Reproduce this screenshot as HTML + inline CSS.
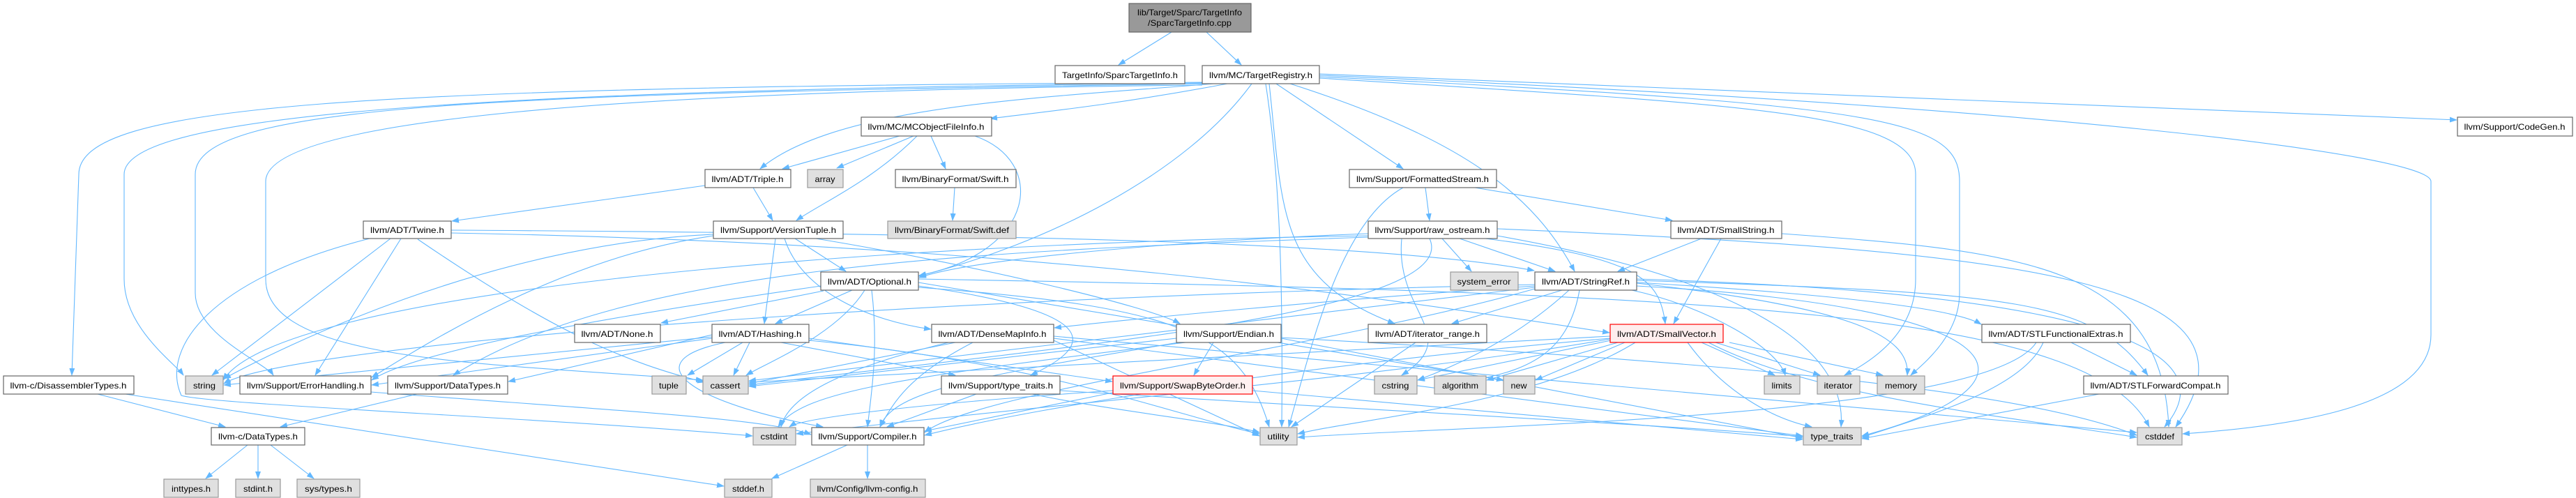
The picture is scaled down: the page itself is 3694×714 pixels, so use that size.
<!DOCTYPE html>
<html><head><meta charset="utf-8"><style>
html,body{margin:0;padding:0;background:#fff}
svg{display:block}
text{font-family:"Liberation Sans",sans-serif;font-size:12px;fill:#000}
.e{fill:none;stroke:#63b8ff;stroke-width:1.1}
.n{fill:#fff;stroke:#666;stroke-width:1.2}
.g{fill:#e0e0e0;stroke:#999;stroke-width:1.2}
.r{fill:#fff0f0;stroke:#f00;stroke-width:1.2}
.root{fill:#999;stroke:#666;stroke-width:1.2}
</style></head><body>
<svg width="3694" height="714" viewBox="0 0 3694 714" xmlns="http://www.w3.org/2000/svg">
<defs><marker id="a" markerWidth="11" markerHeight="8" refX="10" refY="4" orient="auto" markerUnits="userSpaceOnUse"><path d="M0,0 L11,4 L0,8 z" fill="#63b8ff"/></marker></defs>
<g class="e" marker-end="url(#a)">
<path d="M1680 46 L1604 93"/>
<path d="M1730 46 L1780 93"/>
<path d="M1724 118 C500 125,113 150,113 250 L103 538"/>
<path d="M1724 119 C600 130,178 170,178 250 L178 400 C178 470,250 520,263 538"/>
<path d="M1724 120 C700 135,280 150,280 250 L280 420 C280 480,380 520,392 538"/>
<path d="M1724 122 C900 130,381 170,381 260 L381 400 C381 520,700 520,1008 545"/>
<path d="M1760 120 C1600 150,1500 160,1420 170"/>
<path d="M1740 120 C1500 140,1200 150,1090 242"/>
<path d="M1795 120 C1700 250,1500 350,1317 396"/>
<path d="M1830 120 L2012 242"/>
<path d="M1850 120 C2100 200,2200 280,2258 389"/>
<path d="M1820 120 C1840 300,1830 400,2000 464"/>
<path d="M1815 120 C1835 250,1840 400,1838 612"/>
<path d="M1892 112 C2500 150,2747 160,2747 250 L2747 400 C2747 480,2680 520,2645 538"/>
<path d="M1892 110 C2700 150,2810 170,2810 260 L2810 420 C2810 480,2760 520,2740 538"/>
<path d="M1892 108 C2900 150,3486 220,3486 260 L3486 480 C3486 580,3300 610,3130 622"/>
<path d="M1892 106 L3523 172"/>
<path d="M1290 195 L1122 242"/>
<path d="M1310 195 L1200 241"/>
<path d="M1335 195 L1356 242"/>
<path d="M1315 195 C1250 260,1180 290,1142 316"/>
<path d="M1398 195 C1500 230,1490 360,1318 395"/>
<path d="M1080 269 L1108 316"/>
<path d="M1011 266 L648 317"/>
<path d="M1369 269 L1366 316"/>
<path d="M2044 269 L2050 316"/>
<path d="M2115 269 L2398 316"/>
<path d="M2012 269 C1920 320,1880 500,1848 612"/>
<path d="M2068 342 L2110 389"/>
<path d="M2093 342 L2230 389"/>
<path d="M2130 342 C2350 370,2380 400,2388 464"/>
<path d="M1962 335 C1700 345,1400 370,1318 398"/>
<path d="M1962 338 C1200 350,400 420,320 545"/>
<path d="M1962 340 C1400 360,900 380,650 538"/>
<path d="M2050 342 C2100 450,1500 500,1074 552"/>
<path d="M2147 328 C2900 360,3270 400,3120 612"/>
<path d="M2147 338 C2500 400,2650 500,2640 612"/>
<path d="M2010 342 C2000 450,2100 480,2010 538"/>
<path d="M2440 342 L2320 389"/>
<path d="M2468 342 L2400 464"/>
<path d="M2555 335 C2900 360,3100 380,3110 612"/>
<path d="M560 342 L304 538"/>
<path d="M575 342 L452 538"/>
<path d="M530 342 C300 400,230 500,260 567 C300 580,800 600,1079 625"/>
<path d="M647 334 C1500 350,2000 430,2308 477"/>
<path d="M647 330 C1500 335,2000 350,2200 388"/>
<path d="M599 343 C800 480,900 520,1010 548"/>
<path d="M1181 417 L948 463"/>
<path d="M1222 416 L1112 464"/>
<path d="M1240 416 C1200 480,1100 520,1070 538"/>
<path d="M1317 410 C1600 450,1560 500,1478 538"/>
<path d="M1317 412 C1700 440,1780 480,1820 612"/>
<path d="M1317 405 L2156 545"/>
<path d="M1317 400 C2500 420,3000 450,3082 612"/>
<path d="M1177 410 C900 450,600 500,533 545"/>
<path d="M1250 416 C1260 500,1250 560,1244 612"/>
<path d="M1112 342 L1096 464"/>
<path d="M1140 342 L1213 389"/>
<path d="M1125 342 C1150 420,1250 460,1335 472"/>
<path d="M1170 342 C1400 380,1650 440,1692 464"/>
<path d="M1023 338 C800 370,600 500,533 541"/>
<path d="M1023 336 C700 350,400 500,321 543"/>
<path d="M1065 491 L986 538"/>
<path d="M1075 491 L1052 538"/>
<path d="M1120 491 L1370 538"/>
<path d="M1160 485 L1595 547"/>
<path d="M1021 485 L533 552"/>
<path d="M1021 480 L729 547"/>
<path d="M1021 483 L321 552"/>
<path d="M1040 491 C900 520,1000 580,1180 612"/>
<path d="M1160 488 C1500 520,1700 600,1806 622"/>
<path d="M1370 491 L1074 550"/>
<path d="M1395 491 C1300 540,1280 580,1262 612"/>
<path d="M1360 491 C1200 530,1130 570,1120 612"/>
<path d="M1511 485 L2585 625"/>
<path d="M1511 488 L1806 625"/>
<path d="M1511 482 L3064 620"/>
<path d="M2201 410 C1900 430,1600 460,1512 470"/>
<path d="M1740 491 L1712 538"/>
<path d="M1687 485 L1074 554"/>
<path d="M1690 491 C1400 540,1280 560,1262 612"/>
<path d="M1837 485 L2585 628"/>
<path d="M1837 484 C2500 520,2900 560,3064 624"/>
<path d="M1700 491 C1300 540,1150 560,1116 612"/>
<path d="M1796 560 L2585 630"/>
<path d="M1596 560 C1300 580,1150 600,1132 612"/>
<path d="M1600 562 L1326 618"/>
<path d="M1400 565 L1272 612"/>
<path d="M1520 560 C2000 590,2400 610,2585 626"/>
<path d="M1480 565 C1600 590,1750 605,1806 620"/>
<path d="M2240 416 L2082 464"/>
<path d="M2250 416 C2180 480,2100 520,2033 545"/>
<path d="M2265 416 C2250 500,2200 530,2112 545"/>
<path d="M2340 416 C2450 440,2550 500,2560 538"/>
<path d="M2347 405 C2600 420,2800 440,2841 465"/>
<path d="M2347 400 C3000 420,3200 500,3104 612"/>
<path d="M2347 410 C2900 440,2950 550,2670 625"/>
<path d="M2201 412 L1074 546"/>
<path d="M2201 408 C1200 430,400 500,321 550"/>
<path d="M2201 414 C1900 500,1400 560,1326 620"/>
<path d="M2347 402 C2900 420,3000 430,3080 538"/>
<path d="M2347 406 C2650 440,2740 480,2735 538"/>
<path d="M2440 491 L2545 538"/>
<path d="M2460 491 L2610 538"/>
<path d="M2480 491 L2700 538"/>
<path d="M2330 491 L2202 545"/>
<path d="M2320 491 L2132 545"/>
<path d="M2310 488 L2033 545"/>
<path d="M2420 491 C2470 560,2540 600,2598 612"/>
<path d="M2345 491 C2200 580,1950 600,1861 622"/>
<path d="M2309 485 C1900 520,1500 580,1326 624"/>
<path d="M2450 491 C2600 570,2900 600,3064 627"/>
<path d="M2309 482 L1074 548"/>
<path d="M2309 486 C2000 540,1500 580,1142 622"/>
<path d="M2030 491 L1852 612"/>
<path d="M2970 491 L3064 538"/>
<path d="M2930 491 C2900 560,2750 600,2670 627"/>
<path d="M2920 491 C2850 600,2100 610,1861 627"/>
<path d="M3010 565 L2670 629"/>
<path d="M140 565 L323 612"/>
<path d="M180 565 L1038 697"/>
<path d="M598 565 L402 612"/>
<path d="M532 562 C900 590,1100 600,1163 623"/>
<path d="M355 638 L295 686"/>
<path d="M370 638 L370 686"/>
<path d="M388 638 L450 686"/>
<path d="M1215 638 L1107 686"/>
<path d="M1244 638 L1244 686"/>
</g>
<g text-anchor="middle">
<rect class="root" x="1619" y="5" width="175" height="41"/><text x="1706" y="22" textLength="150" lengthAdjust="spacingAndGlyphs">lib/Target/Sparc/TargetInfo</text><text x="1706" y="37" textLength="120" lengthAdjust="spacingAndGlyphs">/SparcTargetInfo.cpp</text>
<rect class="n" x="1513" y="94" width="186" height="26"/><text x="1606" y="112" textLength="166" lengthAdjust="spacingAndGlyphs">TargetInfo/SparcTargetInfo.h</text>
<rect class="n" x="1724" y="94" width="168" height="26"/><text x="1808" y="112" textLength="148" lengthAdjust="spacingAndGlyphs">llvm/MC/TargetRegistry.h</text>
<rect class="n" x="1235" y="168" width="187" height="27"/><text x="1328" y="186" textLength="167" lengthAdjust="spacingAndGlyphs">llvm/MC/MCObjectFileInfo.h</text>
<rect class="n" x="3524" y="168" width="165" height="27"/><text x="3606" y="186" textLength="145" lengthAdjust="spacingAndGlyphs">llvm/Support/CodeGen.h</text>
<rect class="n" x="1011" y="243" width="123" height="26"/><text x="1072" y="261" textLength="103" lengthAdjust="spacingAndGlyphs">llvm/ADT/Triple.h</text>
<rect class="g" x="1158" y="243" width="51" height="26"/><text x="1183" y="261" textLength="29" lengthAdjust="spacingAndGlyphs">array</text>
<rect class="n" x="1284" y="243" width="173" height="26"/><text x="1370" y="261" textLength="153" lengthAdjust="spacingAndGlyphs">llvm/BinaryFormat/Swift.h</text>
<rect class="n" x="1935" y="243" width="211" height="26"/><text x="2040" y="261" textLength="190" lengthAdjust="spacingAndGlyphs">llvm/Support/FormattedStream.h</text>
<rect class="n" x="521" y="317" width="126" height="25"/><text x="584" y="334" textLength="106" lengthAdjust="spacingAndGlyphs">llvm/ADT/Twine.h</text>
<rect class="n" x="1023" y="317" width="186" height="25"/><text x="1116" y="334" textLength="166" lengthAdjust="spacingAndGlyphs">llvm/Support/VersionTuple.h</text>
<rect class="g" x="1273" y="317" width="184" height="25"/><text x="1365" y="334" textLength="164" lengthAdjust="spacingAndGlyphs">llvm/BinaryFormat/Swift.def</text>
<rect class="n" x="1962" y="317" width="185" height="25"/><text x="2054" y="334" textLength="165" lengthAdjust="spacingAndGlyphs">llvm/Support/raw_ostream.h</text>
<rect class="n" x="2396" y="317" width="159" height="25"/><text x="2475" y="334" textLength="139" lengthAdjust="spacingAndGlyphs">llvm/ADT/SmallString.h</text>
<rect class="n" x="1177" y="390" width="140" height="26"/><text x="1247" y="408" textLength="120" lengthAdjust="spacingAndGlyphs">llvm/ADT/Optional.h</text>
<rect class="g" x="2080" y="390" width="97" height="26"/><text x="2128" y="408" textLength="77" lengthAdjust="spacingAndGlyphs">system_error</text>
<rect class="n" x="2201" y="390" width="146" height="26"/><text x="2274" y="408" textLength="126" lengthAdjust="spacingAndGlyphs">llvm/ADT/StringRef.h</text>
<rect class="n" x="824" y="465" width="123" height="26"/><text x="885" y="483" textLength="103" lengthAdjust="spacingAndGlyphs">llvm/ADT/None.h</text>
<rect class="n" x="1021" y="465" width="139" height="26"/><text x="1090" y="483" textLength="119" lengthAdjust="spacingAndGlyphs">llvm/ADT/Hashing.h</text>
<rect class="n" x="1336" y="465" width="175" height="26"/><text x="1423" y="483" textLength="155" lengthAdjust="spacingAndGlyphs">llvm/ADT/DenseMapInfo.h</text>
<rect class="n" x="1687" y="465" width="150" height="26"/><text x="1762" y="483" textLength="130" lengthAdjust="spacingAndGlyphs">llvm/Support/Endian.h</text>
<rect class="n" x="1962" y="465" width="170" height="26"/><text x="2047" y="483" textLength="150" lengthAdjust="spacingAndGlyphs">llvm/ADT/iterator_range.h</text>
<rect class="r" x="2309" y="465" width="162" height="26" style="fill:#fee"/><text x="2390" y="483" textLength="142" lengthAdjust="spacingAndGlyphs">llvm/ADT/SmallVector.h</text>
<rect class="n" x="2842" y="465" width="213" height="26"/><text x="2948" y="483" textLength="193" lengthAdjust="spacingAndGlyphs">llvm/ADT/STLFunctionalExtras.h</text>
<rect class="n" x="5" y="539" width="187" height="26"/><text x="98" y="557" textLength="167" lengthAdjust="spacingAndGlyphs">llvm-c/DisassemblerTypes.h</text>
<rect class="g" x="266" y="539" width="54" height="26"/><text x="293" y="557" textLength="32" lengthAdjust="spacingAndGlyphs">string</text>
<rect class="n" x="344" y="539" width="188" height="26"/><text x="438" y="557" textLength="168" lengthAdjust="spacingAndGlyphs">llvm/Support/ErrorHandling.h</text>
<rect class="n" x="556" y="539" width="172" height="26"/><text x="642" y="557" textLength="152" lengthAdjust="spacingAndGlyphs">llvm/Support/DataTypes.h</text>
<rect class="g" x="935" y="539" width="49" height="26"/><text x="959" y="557" textLength="28" lengthAdjust="spacingAndGlyphs">tuple</text>
<rect class="g" x="1008" y="539" width="65" height="26"/><text x="1040" y="557" textLength="43" lengthAdjust="spacingAndGlyphs">cassert</text>
<rect class="n" x="1350" y="539" width="170" height="26"/><text x="1435" y="557" textLength="150" lengthAdjust="spacingAndGlyphs">llvm/Support/type_traits.h</text>
<rect class="r" x="1596" y="539" width="200" height="26"/><text x="1696" y="557" textLength="180" lengthAdjust="spacingAndGlyphs">llvm/Support/SwapByteOrder.h</text>
<rect class="g" x="1971" y="539" width="61" height="26"/><text x="2001" y="557" textLength="39" lengthAdjust="spacingAndGlyphs">cstring</text>
<rect class="g" x="2057" y="539" width="74" height="26"/><text x="2094" y="557" textLength="52" lengthAdjust="spacingAndGlyphs">algorithm</text>
<rect class="g" x="2156" y="539" width="45" height="26"/><text x="2178" y="557" textLength="23" lengthAdjust="spacingAndGlyphs">new</text>
<rect class="g" x="2530" y="539" width="51" height="26"/><text x="2555" y="557" textLength="29" lengthAdjust="spacingAndGlyphs">limits</text>
<rect class="g" x="2606" y="539" width="61" height="26"/><text x="2636" y="557" textLength="41" lengthAdjust="spacingAndGlyphs">iterator</text>
<rect class="g" x="2692" y="539" width="68" height="26"/><text x="2726" y="557" textLength="46" lengthAdjust="spacingAndGlyphs">memory</text>
<rect class="n" x="2988" y="539" width="207" height="26"/><text x="3091" y="557" textLength="187" lengthAdjust="spacingAndGlyphs">llvm/ADT/STLForwardCompat.h</text>
<rect class="n" x="303" y="613" width="134" height="25"/><text x="370" y="630" textLength="114" lengthAdjust="spacingAndGlyphs">llvm-c/DataTypes.h</text>
<rect class="g" x="1080" y="613" width="61" height="25"/><text x="1110" y="630" textLength="39" lengthAdjust="spacingAndGlyphs">cstdint</text>
<rect class="n" x="1164" y="613" width="161" height="25"/><text x="1244" y="630" textLength="141" lengthAdjust="spacingAndGlyphs">llvm/Support/Compiler.h</text>
<rect class="g" x="1807" y="613" width="53" height="25"/><text x="1833" y="630" textLength="31" lengthAdjust="spacingAndGlyphs">utility</text>
<rect class="g" x="2586" y="613" width="83" height="25"/><text x="2627" y="630" textLength="61" lengthAdjust="spacingAndGlyphs">type_traits</text>
<rect class="g" x="3065" y="613" width="64" height="25"/><text x="3097" y="630" textLength="42" lengthAdjust="spacingAndGlyphs">cstddef</text>
<rect class="g" x="235" y="687" width="78" height="26"/><text x="274" y="705" textLength="56" lengthAdjust="spacingAndGlyphs">inttypes.h</text>
<rect class="g" x="338" y="687" width="64" height="26"/><text x="370" y="705" textLength="42" lengthAdjust="spacingAndGlyphs">stdint.h</text>
<rect class="g" x="426" y="687" width="90" height="26"/><text x="471" y="705" textLength="68" lengthAdjust="spacingAndGlyphs">sys/types.h</text>
<rect class="g" x="1039" y="687" width="68" height="26"/><text x="1073" y="705" textLength="46" lengthAdjust="spacingAndGlyphs">stddef.h</text>
<rect class="g" x="1162" y="687" width="165" height="26"/><text x="1244" y="705" textLength="145" lengthAdjust="spacingAndGlyphs">llvm/Config/llvm-config.h</text>
</g>
</svg>
</body></html>
